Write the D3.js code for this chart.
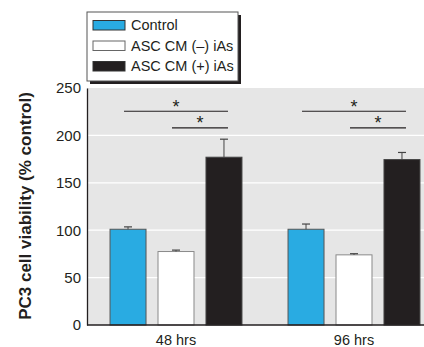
<!DOCTYPE html>
<html><head><meta charset="utf-8">
<script src="https://cdn.jsdelivr.net/npm/d3@7"></script>
<style>
html,body{margin:0;padding:0;background:#fff;}
svg{display:block;}
text{font-family:"Liberation Sans Narrow","Arial Narrow","Liberation Sans",Arial,sans-serif;}
</style></head>
<body>
<svg id="chart" width="424" height="347"></svg>
<script>
const groups = ["48 hrs", "96 hrs"];
const series = ["Control", "ASC CM (\u2013) iAs", "ASC CM (+) iAs"];
const seriesColors = ["#29abe2", "#ffffff", "#231f20"];
const values48 = [101, 77.5, 177];
const values96 = [101, 74, 174.5];
const errors48 = [2.5, 1.5, 19];
const errors96 = [5.5, 1.2, 7.5];
const yTicks = [0, 50, 100, 150, 200, 250];
const yTitle = "PC3 cell viability (% control)";
// significance brackets
const sigGroupIdx = [0, 0, 1, 1];
const sigFrom = [0, 1, 0, 1];
const sigTo = [2, 2, 2, 2];
const sigLevel = [225.5, 208];
const sigLabel = ["*", "*", "*", "*"];

const data = groups.map((g, gi) => ({
  group: g,
  vals: series.map((s, si) => ({
    series: s, si,
    value: gi === 0 ? values48[si] : values96[si],
    err: gi === 0 ? errors48[si] : errors96[si]
  }))
}));

const svg = d3.select("#chart");
const plotLeft = 87, plotRight = 424, plotTop = 88, plotBottom = 325;

const y = d3.scaleLinear().domain([0, 250]).range([plotBottom, plotTop]);
const x0 = d3.scaleBand().domain(groups).range([plotLeft, plotLeft + 356]).padding(0);
const x1 = d3.scaleBand().domain(series).range([0, x0.bandwidth()]).paddingInner(0.25).paddingOuter(0.48);

// background
svg.append("rect").attr("x", plotLeft).attr("y", plotTop)
  .attr("width", plotRight - plotLeft).attr("height", plotBottom - plotTop)
  .attr("fill", "#e6e6e6");

// grid lines
svg.append("g").selectAll("line").data(yTicks.filter(d => d > 0 && d < 250)).join("line")
  .attr("x1", plotLeft).attr("x2", plotRight)
  .attr("y1", d => y(d)).attr("y2", d => y(d))
  .attr("stroke", "#ffffff").attr("stroke-width", 1.2);

// y axis
const yAxis = d3.axisLeft(y).tickValues(yTicks).tickSize(0).tickPadding(6);
const ya = svg.append("g").attr("transform", `translate(${plotLeft},0)`).call(yAxis);
ya.select(".domain").attr("stroke", "#231f20").attr("stroke-width", 1.3);
ya.selectAll("text").attr("font-size", 15).attr("fill", "#231f20")
  .style("font-family", '"Liberation Sans Narrow","Arial Narrow",Arial,sans-serif');

// bars
const gG = svg.append("g").selectAll("g").data(data).join("g")
  .attr("transform", d => `translate(${x0(d.group)},0)`);

gG.selectAll("rect").data(d => d.vals).join("rect")
  .attr("x", d => x1(d.series)).attr("width", x1.bandwidth())
  .attr("y", d => y(d.value)).attr("height", d => y(0) - y(d.value))
  .attr("fill", d => seriesColors[d.si])
  .attr("stroke", d => d.si === 2 ? "#444" : (d.si === 1 ? "#8a8a8a" : "#555"))
  .attr("stroke-width", 1);

// error bars
gG.selectAll("g.err").data(d => d.vals).join("g").attr("class", "err").each(function(d) {
  const g = d3.select(this);
  const cx = x1(d.series) + x1.bandwidth() / 2;
  g.append("line").attr("x1", cx).attr("x2", cx)
    .attr("y1", y(d.value)).attr("y2", y(d.value + d.err))
    .attr("stroke", "#444").attr("stroke-width", 1);
  g.append("line").attr("x1", cx - 4).attr("x2", cx + 4)
    .attr("y1", y(d.value + d.err)).attr("y2", y(d.value + d.err))
    .attr("stroke", "#444").attr("stroke-width", 1.2);
});

// x axis
const xAxis = d3.axisBottom(x0).tickSize(0).tickPadding(10);
const xa = svg.append("g").attr("transform", `translate(0,${plotBottom})`).call(xAxis);
xa.select(".domain").remove();
svg.append("line").attr("x1", plotLeft).attr("x2", plotRight)
  .attr("y1", plotBottom).attr("y2", plotBottom)
  .attr("stroke", "#231f20").attr("stroke-width", 1.5);
xa.selectAll("text").attr("font-size", 14.5).attr("fill", "#231f20")
  .style("font-family", '"Liberation Sans Narrow","Arial Narrow",Arial,sans-serif');

// significance brackets
const sig = svg.append("g");
sigGroupIdx.forEach((gi, i) => {
  const gx = x0(groups[gi]);
  const xa1 = gx + x1(series[sigFrom[i]]) + x1.bandwidth() / 2 - 4;
  const xa2 = gx + x1(series[sigTo[i]]) + x1.bandwidth() / 2 + 4;
  const lvl = sigLevel[i % 2];
  sig.append("line").attr("x1", xa1).attr("x2", xa2)
    .attr("y1", y(lvl)).attr("y2", y(lvl))
    .attr("stroke", "#231f20").attr("stroke-width", 1.2);
  sig.append("text").attr("x", (xa1 + xa2) / 2).attr("y", y(lvl) + 1.5)
    .attr("text-anchor", "middle").attr("font-size", 18).attr("fill", "#231f20")
    .text(sigLabel[i]);
});

// y title
svg.append("text")
  .attr("transform", `translate(31,206) rotate(-90)`)
  .attr("text-anchor", "middle")
  .attr("font-size", 17).attr("font-weight", "bold").attr("fill", "#231f20")
  .text(yTitle);

// legend
const lg = svg.append("g");
const lx = 87, ly = 12, lw = 151, lh = 69;
lg.append("rect").attr("x", lx + 3).attr("y", ly + 3).attr("width", lw).attr("height", lh).attr("fill", "#231f20");
lg.append("rect").attr("x", lx).attr("y", ly).attr("width", lw).attr("height", lh)
  .attr("fill", "#fff").attr("stroke", "#555").attr("stroke-width", 1);
series.forEach((s, i) => {
  const ry = ly + 13 + i * 20.5;
  lg.append("rect").attr("x", lx + 6).attr("y", ry - 4.5).attr("width", 32).attr("height", 9.5)
    .attr("fill", seriesColors[i]).attr("stroke", i === 1 ? "#666" : "#333").attr("stroke-width", 1);
  lg.append("text").attr("x", lx + 44).attr("y", ry).attr("dy", "0.36em")
    .attr("font-size", 14.5).attr("fill", "#231f20").text(s);
});
</script>
</body></html>
